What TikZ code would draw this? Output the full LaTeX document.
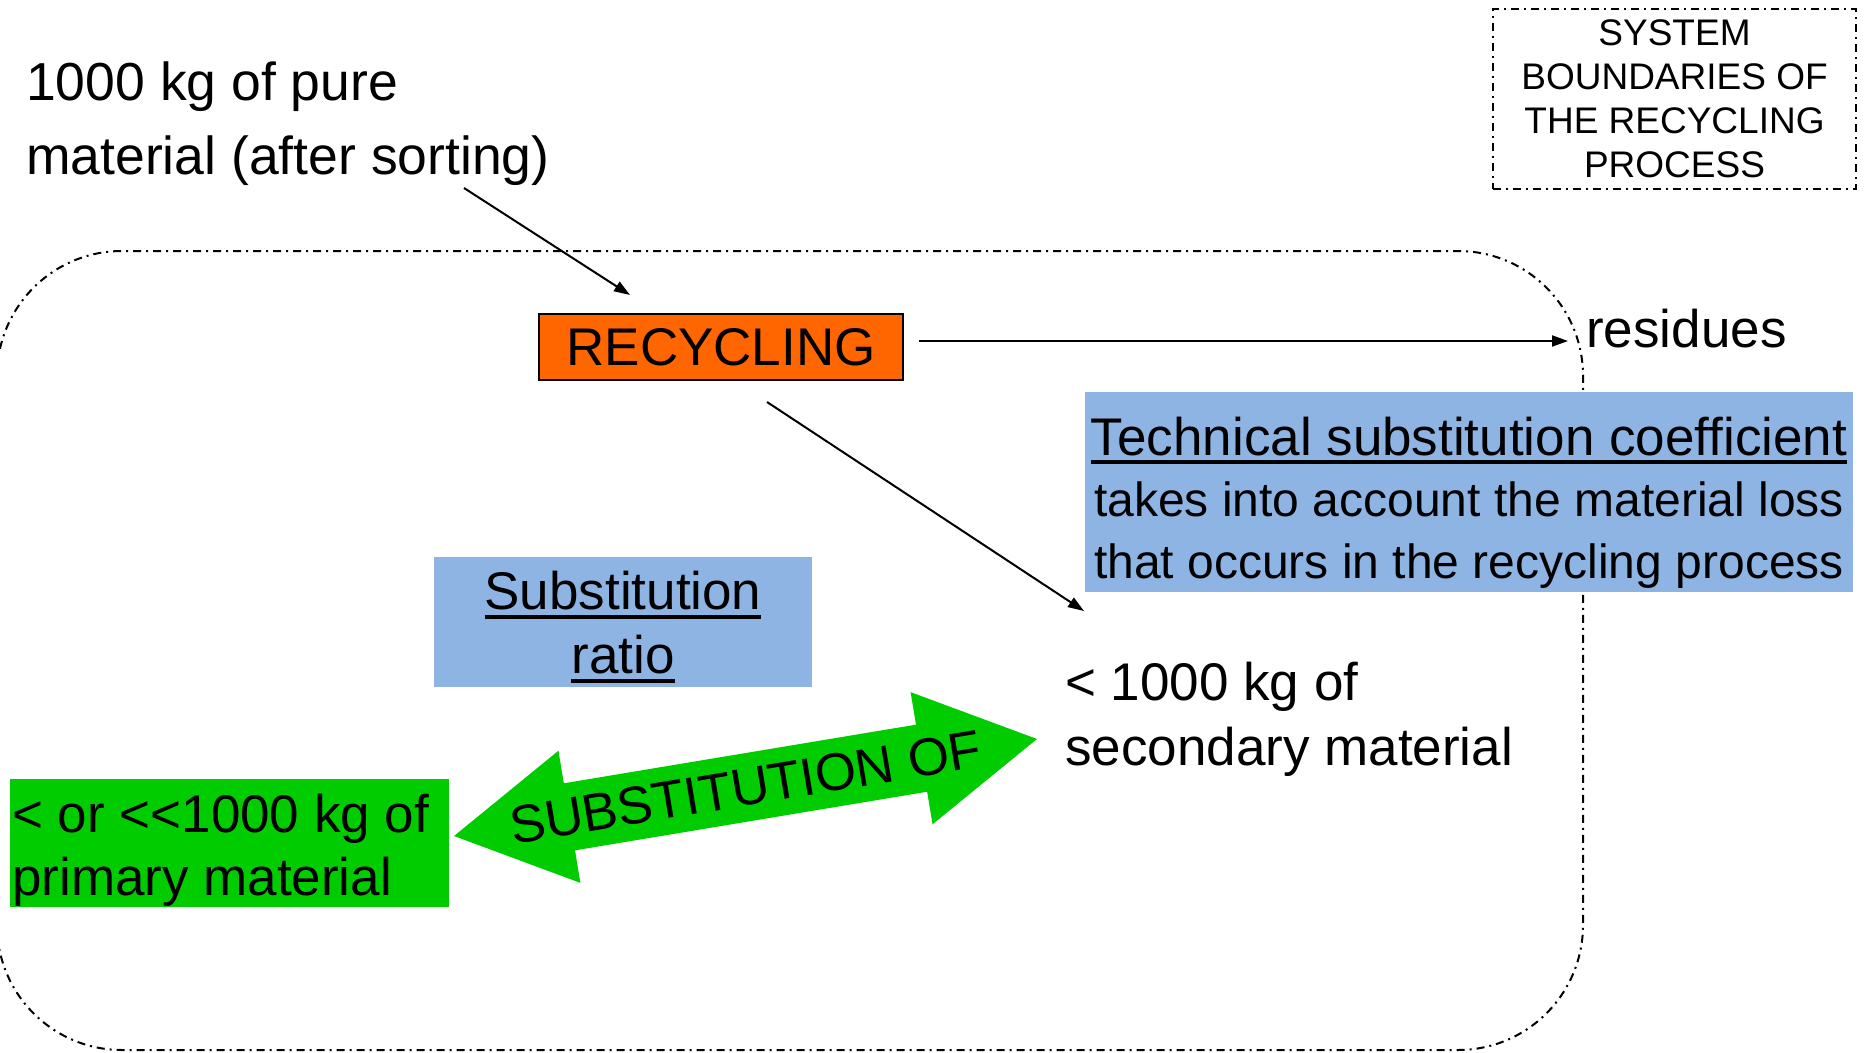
\documentclass[tikz,border=0pt]{standalone}
\usepackage{fontspec}
\setmainfont{Liberation Sans}
\usetikzlibrary{arrows.meta}
\definecolor{recorange}{RGB}{255,102,0}
\definecolor{boxblue}{RGB}{142,180,227}
\definecolor{boxgreen}{RGB}{0,204,0}
\newsavebox\ulbox
\newcommand\myul[2][9]{\sbox\ulbox{#2}\rlap{\rule[-#1pt]{\wd\ulbox}{4pt}}\usebox\ulbox}
\begin{document}
\begin{tikzpicture}[x=1pt,y=-1pt,
  big/.style={font=\fontsize{53}{64}\selectfont, inner sep=0pt},
  mid/.style={font=\fontsize{48}{58}\selectfont, inner sep=0pt},
  lbl/.style={big, anchor=base west},
  arr/.style={line width=2pt, -{Triangle[length=16pt,width=11pt]}},
  boundary/.style={line width=2pt, dash pattern=on 8pt off 5pt on 2pt off 5pt},
  panel/.style={inner sep=0pt, draw=none}]
\useasboundingbox (0,0) rectangle (1865,1052);

% system boundary (rounded)
\draw[boundary, rounded corners=125pt] (-3,251) rectangle (1583,1050);

% legend box
\node[draw, boundary, minimum width=363pt, minimum height=180pt, align=center,
      font=\fontsize{37}{44}\selectfont, inner sep=0pt] (sysbox) at (1674.5,99)
      {SYSTEM\\BOUNDARIES OF\\THE RECYCLING\\PROCESS};

% input text
\node[lbl, font=\fontsize{53.5}{64}\selectfont] (src1) at (26,100) {1000 kg of pure};
\node[lbl, font=\fontsize{53.5}{64}\selectfont] (src2) at (26,174) {material (after sorting)};

% recycling box
\node[draw=black, line width=1.5pt, fill=recorange, minimum width=364pt,
      minimum height=66pt, big] (rec) at (721,347) {RECYCLING};

% residues
\node[lbl] (res) at (1586,347) {residues};

% technical substitution coefficient box
\node[panel, fill=boxblue, minimum width=768pt, minimum height=200pt] (tech) at (1469,492) {};
\node[big, anchor=base] (tech1) at (1469,455) {\myul[9]{Technical substitution coefficient}};
\node[mid, anchor=base] (tech2) at (1469,516) {takes into account the material loss};
\node[mid, anchor=base] (tech3) at (1469,578) {that occurs in the recycling process};

% substitution ratio box
\node[panel, fill=boxblue, minimum width=378pt, minimum height=130pt] (ratio) at (623,622) {};
\node[big, anchor=base] (ratio1) at (623,609) {\myul[10]{Substitution}};
\node[big, anchor=base] (ratio2) at (623,673) {\myul[10]{ratio}};

% primary material box
\node[panel, fill=boxgreen, minimum width=439pt, minimum height=128pt] (prim) at (229.5,843) {};
\node[lbl] (prim1) at (12,832) {< or <\kern0pt<1000 kg of};
\node[lbl] (prim2) at (12,895) {primary material};

% secondary material
\node[lbl] (sec1) at (1065,700) {< 1000 kg of};
\node[lbl] (sec2) at (1065,765) {secondary material};

% green double arrow
\begin{scope}[shift={(745.5,787.5)}, rotate=9.45]
\fill[boxgreen] (-295.5,0) -- (-178.5,-67) -- (-178.5,-34) -- (178.5,-34)
  -- (178.5,-67) -- (295.5,0) -- (178.5,67) -- (178.5,34) -- (-178.5,34)
  -- (-178.5,67) -- cycle;
\end{scope}
\node[big, rotate=9.45] (subst) at (745.5,787.5) {SUBSTITUTION OF};

% connectors
\coordinate (a1s) at (464,188);
\coordinate (a1e) at (630,295);
\coordinate (a2s) at (919,341);
\coordinate (a2e) at (1568,341);
\coordinate (a3s) at (767,402);
\coordinate (a3e) at (1084,611);
\draw[arr] (a1s) -- (a1e);
\draw[arr] (a2s) -- (a2e);
\draw[arr] (a3s) -- (a3e);
\end{tikzpicture}
\end{document}
